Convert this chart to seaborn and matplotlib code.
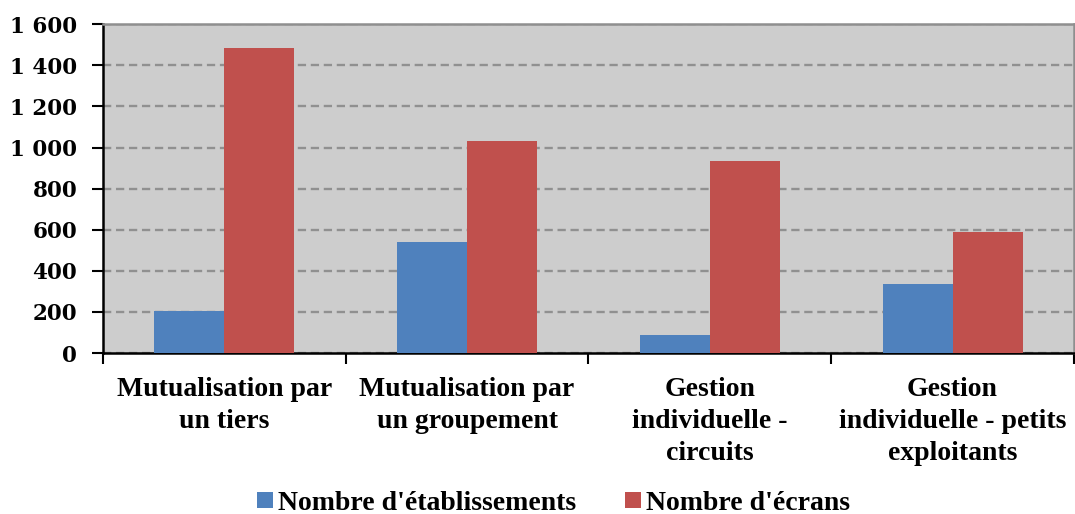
import numpy as np
import pandas as pd
import seaborn as sns
import matplotlib.pyplot as plt
from matplotlib.ticker import FuncFormatter, FixedLocator
from matplotlib.patches import Patch

categories = [
    "Mutualisation par\nun tiers",
    "Mutualisation par\nun groupement",
    "Gestion\nindividuelle -\ncircuits",
    "Gestion\nindividuelle - petits\nexploitants",
]
series = ["Nombre d'établissements", "Nombre d'écrans"]
etablissements = [205, 540, 87, 338]
ecrans = [1482, 1030, 933, 588]
colors = ["#4F81BD", "#C0504D"]

df = pd.DataFrame({
    "categorie": categories * 2,
    "serie": [series[0]] * 4 + [series[1]] * 4,
    "valeur": etablissements + ecrans,
})

sns.set_theme(style="white")
plt.rcParams["font.family"] = ["DejaVu Serif"]
plt.rcParams["font.weight"] = "bold"
plt.rcParams["text.color"] = "black"
plt.rcParams["xtick.color"] = "black"
plt.rcParams["ytick.color"] = "black"

fig = plt.figure(figsize=(10.75, 5.14), dpi=100)
ax = fig.add_axes([0.0958, 0.313, 0.9032, 0.640])
ax.set_facecolor("#CDCDCD")

sns.barplot(data=df, x="categorie", y="valeur", hue="serie", order=categories,
            hue_order=series, palette=colors, saturation=1, width=0.577,
            edgecolor="none", linewidth=0, ax=ax, zorder=3)

ax.set_ylim(0, 1600)
ax.set_xlim(-0.5, 3.5)
ax.yaxis.set_major_locator(FixedLocator(np.arange(0, 1601, 200)))
ax.yaxis.set_major_formatter(FuncFormatter(lambda v, p: f"{int(v):,}".replace(",", " ")))
ax.grid(axis="y", color="#909090", linestyle=(0, (3.5, 2)), linewidth=1.7, zorder=1)
ax.grid(axis="x", visible=False)

ax.set_xlabel("")
ax.set_ylabel("")
ax.tick_params(axis="y", which="major", direction="out", length=8, width=1.5,
               color="black", labelsize=15.5, pad=10.5, left=True, labelcolor="black")
ax.tick_params(axis="x", which="major", length=0, pad=17.5, labelcolor="black")
ax.set_xticks([-0.5, 0.5, 1.5, 2.5, 3.5], minor=True)
ax.tick_params(axis="x", which="minor", direction="out", length=8, width=1.5,
               color="black", bottom=True)
for lbl in ax.get_yticklabels():
    lbl.set_fontweight("bold")
for lbl in ax.get_xticklabels():
    lbl.set_fontfamily("Liberation Serif")
    lbl.set_fontsize(20)
    lbl.set_fontweight("bold")
    lbl.set_linespacing(1.36)

for side in ("left", "bottom"):
    ax.spines[side].set_color("black")
    ax.spines[side].set_linewidth(1.8)
for side in ("top", "right"):
    ax.spines[side].set_color("#8F8F8F")
    ax.spines[side].set_linewidth(1.8)

ax.legend_.remove()
handles = [Patch(facecolor=c, edgecolor="none") for c in colors]
fig.legend(handles, series, loc="center", bbox_to_anchor=(0.515, 0.021), ncol=2,
           frameon=False,
           prop={"family": "Liberation Serif", "size": 20, "weight": "bold"},
           handlelength=0.57, handleheight=0.5, handletextpad=0.2,
           columnspacing=1.75, borderpad=0)

fig.savefig("out.png", dpi=100)
